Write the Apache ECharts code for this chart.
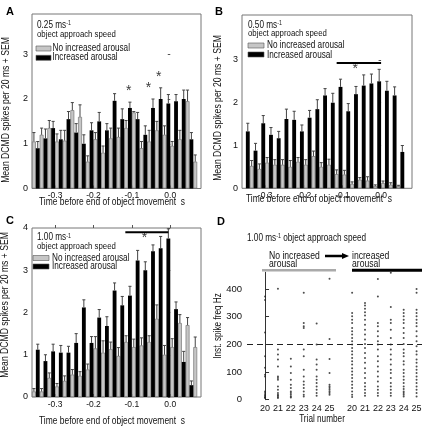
<!DOCTYPE html>
<html><head><meta charset="utf-8">
<script src="https://cdn.jsdelivr.net/npm/echarts@6/dist/echarts.min.js"></script>
<style>html,body{margin:0;padding:0;background:#fff}#c{width:425px;height:426px}</style>
</head><body><div id="c"></div>
<script>
const FONT = "'Liberation Sans',Arial,sans-serif";
const SX = 0.82; // horizontal squeeze of the original's narrow type
const BIN = 0.02;
// 20 ms bins (centres, s)
const binCenters = [-0.35,-0.33,-0.31,-0.29,-0.27,-0.25,-0.23,-0.21,-0.19,-0.17,-0.15,-0.13,-0.11,-0.09,-0.07,-0.05,-0.03,-0.01,0.01,0.03,0.05,0.07];
const timeTicks = [-0.3,-0.2,-0.1,0.0];

// Panel A: 0.25 m/s
const aGray     = [1.05,1.2,1.35,1.05,1.07,1.75,1.6,0.6,1.1,0.8,1.12,1.15,1.35,1.7,0.9,1.05,1.3,1.2,0.95,1.1,1.95,0.6];
const aGrayErr  = [1.25,1.35,1.52,1.22,1.3,1.92,1.87,0.73,1.25,0.95,1.35,1.35,1.52,1.72,1.05,1.3,1.5,1.4,1.05,1.3,2.2,0.75];
const aBlack    = [0.9,1.12,1.35,1.1,1.55,1.25,1.0,1.3,1.5,1.3,1.96,1.55,1.8,1.55,1.2,1.8,2.0,1.9,1.95,2.0,1.1,'-'];
const aBlackErr = [1.05,1.33,1.5,1.3,1.72,1.45,1.2,1.47,1.7,1.45,2.12,1.78,1.93,1.7,1.4,2.0,2.25,2.1,2.1,2.2,1.25,'-'];
const aStars    = [[-0.108,2.18],[-0.057,2.25],[-0.03,2.48]];

// Panel B: 0.50 m/s
const bGray     = ['-',0.52,0.45,0.6,0.55,0.55,0.5,0.62,0.55,0.75,0.5,0.55,0.33,0.32,0.1,0.2,0.18,0.05,0.12,0.08,0.05,'-'];
const bGrayErr  = ['-',0.65,0.57,0.72,0.67,0.67,0.65,0.72,0.67,0.87,0.6,0.68,0.43,0.42,0.15,0.25,0.27,0.08,0.17,0.13,0.07,'-'];
const bBlack    = [1.33,0.88,1.52,1.25,1.17,1.62,1.6,1.33,1.65,1.85,2.17,2.0,2.37,1.8,2.2,2.4,2.45,2.5,2.28,2.17,0.85,'-'];
const bBlackErr = [1.52,1.05,1.7,1.42,1.33,1.85,1.8,1.48,1.82,2.07,2.33,2.22,2.55,1.98,2.38,2.65,2.67,2.78,2.5,2.37,1.0,'-'];
const bSigLine  = [[-0.115,2.93],[0.0,2.93]];
const bStars    = [[-0.067,2.79]];

// Panel C: 1.00 m/s
const cGray     = [0.13,0.13,0.45,0.25,0.38,0.53,0.5,0.65,1.15,1.05,1.13,0.97,1.3,1.18,1.22,1.3,1.85,1.0,1.18,1.75,1.7,1.18];
const cGrayErr  = [0.2,0.2,0.57,0.32,0.5,0.65,0.6,0.78,1.43,1.33,1.3,1.17,1.45,1.37,1.4,1.45,2.18,1.22,1.38,1.95,1.88,1.42];
const cBlack    = [1.12,0.85,1.08,1.05,1.05,1.28,2.12,1.28,1.88,1.68,2.52,2.17,2.4,3.23,3.0,3.45,3.52,3.75,2.08,0.83,0.28,'-'];
const cBlackErr = [1.25,1.0,1.25,1.22,1.2,1.5,2.3,1.43,2.07,1.9,2.7,2.38,2.62,3.47,3.2,3.6,3.8,3.98,2.25,1.08,0.38,'-'];
const cSigLine  = [[-0.117,3.9],[-0.005,3.9]];
const cStars    = [[-0.067,3.76]];

// Panel D: raster of instantaneous spike frequency (Hz)
const trialLabels = ['20','21','22','23','24','25','20','21','22','23','24','25'];
const trialPos    = [0,1,2,3,4,5,6.75,7.75,8.75,9.75,10.75,11.75];
const freqTicks   = [0,100,200,300,400];
const rasters = [
  [373,360,243,157,115,90,84,30,24,18,14,10,8,6],
  [401,181,163,145,120,84,78,72,48,36,24,18,14,10,6],
  [148,120,96,72,54,42,30,24,18,12,8],
  [386,277,265,259,181,157,108,84,66,54,42,30,18,12],
  [275,199,145,127,108,84,72,60,48,36,24,14],
  [437,219,147,96,54,48,42,36,30,24,18],
  [386,313,301,289,277,259,247,235,223,211,199,187,175,163,151,139,127,114,102,90,78,66,54,42,30,18,10],
  [349,340,328,316,304,289,271,253,235,217,201,187,169,151,133,114,96,78,60,48,36,24,14],
  [436,373,277,265,247,229,211,199,181,157,139,120,102,84,66,48,36,24,14],
  [458,335,289,277,253,223,199,181,163,145,127,108,96,78,60,48,36,24,14],
  [325,313,301,289,277,259,241,223,201,181,169,157,139,127,108,96,84,72,60,48,39,30,24,18,12],
  [400,386,325,313,301,289,277,265,247,229,211,193,175,163,145,133,120,108,96,84,72,60,48,36,24,12]
];
const thresholdHz = 200;

const GRAY = '#c6c6c6';
const grids = [
  {left:32, top:14, width:169, height:174.5, yMax:3.9, yTicks:[0,1,2,3]},
  {left:242, top:15, width:170, height:173.3, yMax:4.05, yTicks:[0,1,2,3]},
  {left:32, top:228, width:169, height:169, yMax:4, yTicks:[0,1,2,3,4]}
];
const panels = [
  {gray:aGray, grayErr:aGrayErr, black:aBlack, blackErr:aBlackErr, stars:aStars, sig:null},
  {gray:bGray, grayErr:bGrayErr, black:bBlack, blackErr:bBlackErr, stars:bStars, sig:bSigLine},
  {gray:cGray, grayErr:cGrayErr, black:cBlack, blackErr:cBlackErr, stars:cStars, sig:cSigLine}
];

const gridOpt = [], xAxes = [], yAxes = [], series = [];
grids.forEach((g, i) => {
  gridOpt.push({left:g.left, top:g.top, width:g.width, height:g.height, show:true, borderColor:'#777', borderWidth:1, backgroundColor:'transparent'});
  xAxes.push({type:'value', gridIndex:i, min:-0.36, max:0.08, axisLine:{show:false}, splitLine:{show:false},
    axisTick:{show:true, inside:true, length:3, customValues:timeTicks, lineStyle:{color:'#555'}},
    axisLabel:{customValues:timeTicks, margin:3, fontFamily:FONT, fontSize:8.5, color:'#111', formatter:v=>v.toFixed(1)}});
  yAxes.push({type:'value', gridIndex:i, min:0, max:g.yMax, axisLine:{show:false}, splitLine:{show:false},
    axisTick:{show:true, length:2.5, customValues:g.yTicks, lineStyle:{color:'#555'}},
    axisLabel:{customValues:g.yTicks, margin:4, fontFamily:FONT, fontSize:9, color:'#111'}});
});
// top ticks for panel C
xAxes.push({type:'value', gridIndex:2, position:'top', min:-0.36, max:0.08, axisLine:{show:false}, splitLine:{show:false},
  axisTick:{show:true, length:3, customValues:timeTicks, lineStyle:{color:'#555'}}, axisLabel:{show:false}});

function errRender(side){
  return function(params, api){
    const t = api.value(0), v = api.value(1), e = api.value(2);
    if (isNaN(v) || isNaN(e)) return;
    const band = api.size([BIN, 0])[0];
    const p0 = api.coord([t, v]), p1 = api.coord([t, e]);
    const x = p0[0] + side * band / 4;
    const cw = band * 0.2;
    const st = {stroke:'#444', lineWidth:1};
    return {type:'group', children:[
      {type:'line', shape:{x1:x, y1:p0[1], x2:x, y2:p1[1]}, style:st},
      {type:'line', shape:{x1:x-cw, y1:p1[1], x2:x+cw, y2:p1[1]}, style:st}
    ]};
  };
}

panels.forEach((p, i) => {
  series.push({type:'bar', xAxisIndex:i, yAxisIndex:i, barGap:'0%', barCategoryGap:'0%',
    itemStyle:{color:GRAY, borderColor:'#666', borderWidth:0.6}, data:binCenters.map((t,k)=>[t,p.gray[k]]), z:2});
  series.push({type:'bar', xAxisIndex:i, yAxisIndex:i, barGap:'0%', barCategoryGap:'0%',
    itemStyle:{color:'#000'}, data:binCenters.map((t,k)=>[t,p.black[k]]), z:2});
  series.push({type:'custom', xAxisIndex:i, yAxisIndex:i, renderItem:errRender(-1), z:3,
    data:binCenters.map((t,k)=>[t,p.gray[k],p.grayErr[k]])});
  series.push({type:'custom', xAxisIndex:i, yAxisIndex:i, renderItem:errRender(1), z:3,
    data:binCenters.map((t,k)=>[t,p.black[k],p.blackErr[k]])});
  series.push({type:'scatter', xAxisIndex:i, yAxisIndex:i, symbolSize:1, itemStyle:{color:'transparent'}, z:4,
    label:{show:true, position:'inside', formatter:'*', fontFamily:FONT, fontSize:14, color:'#000'}, data:p.stars});
  if (p.sig) series.push({type:'line', xAxisIndex:i, yAxisIndex:i, symbol:'none', z:4,
    lineStyle:{color:'#000', width:2}, data:p.sig});
});

// Panel D
gridOpt.push({left:247, top:272.3, width:175, height:127.4});
xAxes.push({type:'value', gridIndex:3, min:-1.4, max:12.17, axisLine:{show:false}, axisTick:{show:false}, splitLine:{show:false},
  axisLabel:{customValues:trialPos, margin:4, fontFamily:FONT, fontSize:9, color:'#111',
    formatter:v=>{const k=trialPos.indexOf(v); return k>=0?trialLabels[k]:'';}}});
yAxes.push({type:'value', gridIndex:3, min:0, max:460, splitLine:{show:false},
  axisLine:{show:true, lineStyle:{color:'#333', width:1}},
  axisTick:{show:true, inside:true, length:4, customValues:freqTicks, lineStyle:{color:'#333'}},
  axisLabel:{customValues:freqTicks, margin:5, fontFamily:FONT, fontSize:9.5, color:'#111'}});
const rasterData = [];
rasters.forEach((arr, j) => arr.forEach(v => rasterData.push([trialPos[j], v])));
series.push({type:'scatter', xAxisIndex:4, yAxisIndex:3, symbolSize:2, itemStyle:{color:'#222'}, data:rasterData,
  markLine:{silent:true, symbol:'none', label:{show:false}, lineStyle:{color:'#222', type:[6,4], width:1.2}, data:[{yAxis:thresholdHz}]}});

function txt(x, y, s, size){
  return {type:'text', x:x, y:y, scaleX:SX, style:{text:s, fontFamily:FONT, fontSize:size||10, fill:'#111', textVerticalAlign:'middle'}};
}
function speed(x, y, v, tail){
  return {type:'text', x:x, y:y, scaleX:SX, style:{text:'{b|'+v+' ms}{s|-1}'+(tail?'{b| '+tail+'}':''), fontFamily:FONT, textVerticalAlign:'middle',
    rich:{b:{fontSize:10, fontFamily:FONT, fill:'#111'}, s:{fontSize:6.5, fontFamily:FONT, fill:'#111', verticalAlign:'top'}}}};
}
function rect(x, y, w, h, c){ return {type:'rect', shape:{x:x,y:y,width:w,height:h}, style:{fill:c, stroke:'#555', lineWidth:0.6}}; }
function vtxt(x, y, s, size){
  return {type:'text', x:x, y:y, rotation:Math.PI/2, scaleX:SX, style:{text:s, fontFamily:FONT, fontSize:size, fill:'#111', textAlign:'center', textVerticalAlign:'middle'}};
}
function htxt(x, y, s, size){
  return {type:'text', x:x, y:y, scaleX:SX, style:{text:s, fontFamily:FONT, fontSize:size, fill:'#111', textAlign:'center', textVerticalAlign:'middle'}};
}
const letter = (x,y,s)=>({type:'text', x:x, y:y, style:{text:s, fontFamily:FONT, fontWeight:'bold', fontSize:11, fill:'#000', textVerticalAlign:'middle'}});
const YT = 'Mean DCMD spikes per 20 ms + SEM';
const XT = 'Time before end of object movement  s';
const graphics = [
  letter(6,12,'A'), letter(215,12,'B'), letter(6,220.5,'C'), letter(217,221.5,'D'),
  speed(37,25,'0.25'), txt(37,34,'object approach speed',9.5),
  rect(36,46,15,5,GRAY), txt(52.5,48.5,'No increased arousal'), rect(36,55.3,15,5,'#000'), txt(52.5,57.7,'Increased arousal'),
  speed(248,25,'0.50'), txt(248,33.5,'object approach speed',9.5),
  rect(248,43,16,5,GRAY), txt(267,45.5,'No increased arousal'), rect(248,52,16,5,'#000'), txt(267,55,'Increased arousal'),
  speed(37,237.5,'1.00'), txt(37,246.3,'object approach speed',9.5),
  rect(33,255.5,16,5,GRAY), txt(52,258,'No increased arousal'), rect(33,264,16,5,'#000'), txt(52,266.7,'Increased arousal'),
  vtxt(6.5,110,YT,10.5), vtxt(218.3,108,YT,10.5), vtxt(5.5,305,YT,10.5),
  htxt(112,202,XT,10.3), htxt(319,199.5,XT,10.3), htxt(112,421.3,XT,10.3),
  speed(247,238,'1.00','object approach speed'),
  txt(269,255.7,'No increased',10.5), txt(269,264.3,'arousal',10.5),
  txt(352,255.7,'increased',10.5), txt(352,264.5,'arousal',10.5),
  {type:'line', shape:{x1:325,y1:256,x2:343,y2:256}, style:{stroke:'#000', lineWidth:2.5}},
  {type:'polygon', shape:{points:[[342,253],[349,256],[342,259]]}, style:{fill:'#000'}},
  {type:'line', shape:{x1:262,y1:270.3,x2:336,y2:270.3}, style:{stroke:'#aaa', lineWidth:2.5}},
  {type:'line', shape:{x1:352,y1:270.3,x2:422,y2:270.3}, style:{stroke:'#000', lineWidth:3}},
  vtxt(218.5,326,'Inst. spike freq Hz',10), htxt(322,419.7,'Trial number',10)
];

const chart = echarts.init(document.getElementById('c'), null, {renderer:'canvas'});
chart.setOption({animation:false, backgroundColor:'#fff', grid:gridOpt, xAxis:xAxes, yAxis:yAxes, series:series, graphic:graphics});
</script></body></html>
